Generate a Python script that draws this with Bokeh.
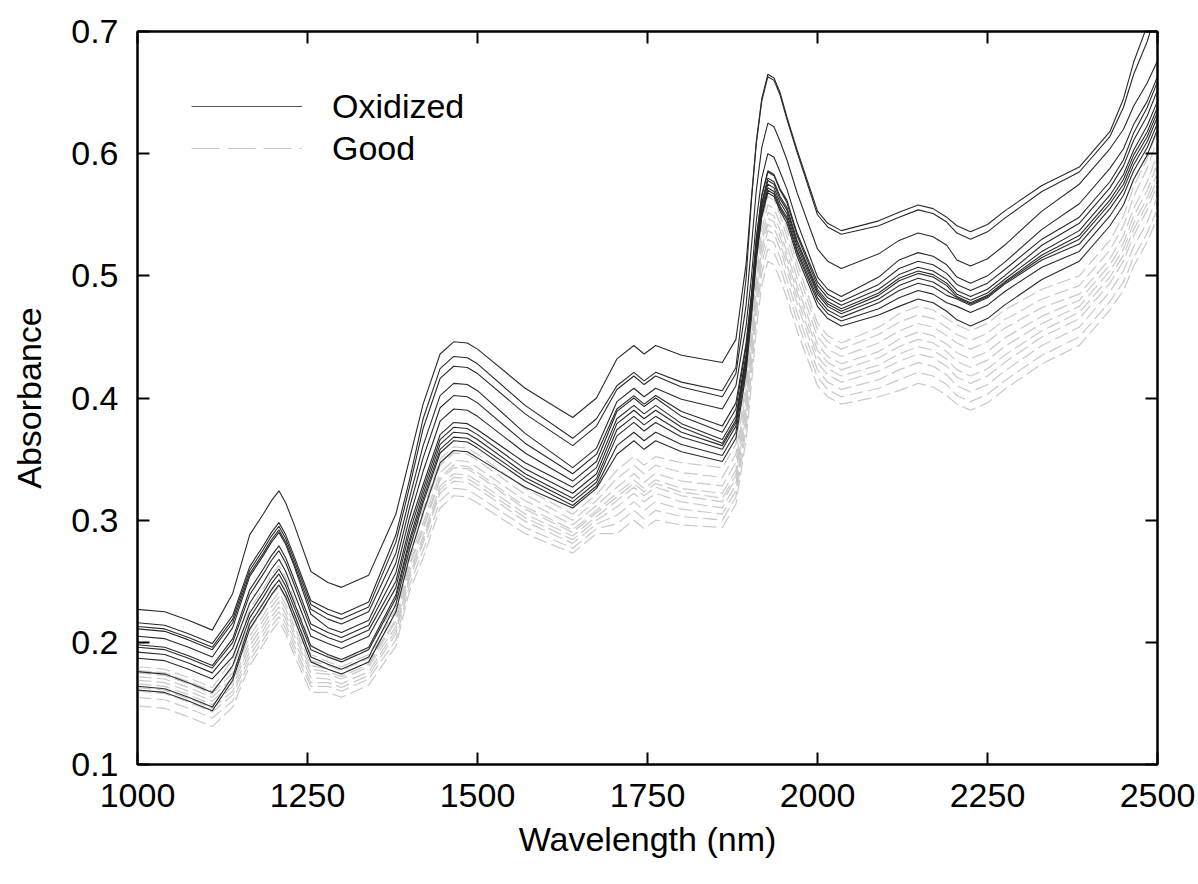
from bokeh.plotting import figure
from bokeh.models import FixedTicker, LinearAxis, Legend, LegendItem, Range1d
from bokeh.embed import file_html
from bokeh.resources import INLINE

# ---------------- data ----------------
WAVELENGTH = [1000, 1040, 1075, 1110, 1140, 1165, 1185, 1197, 1208, 1218,
              1230, 1255, 1280, 1300, 1340, 1380, 1400, 1420, 1445, 1465,
              1485, 1500, 1570, 1640, 1675, 1705, 1730, 1745, 1762, 1800,
              1860, 1880, 1895, 1903, 1910, 1918, 1927, 1936, 1945, 1955,
              1970, 2000, 2015, 2035, 2090, 2120, 2148, 2170, 2190, 2205,
              2225, 2250, 2275, 2330, 2385, 2430, 2450, 2465, 2485, 2500]

ox01 = [.227, .225, .218, .210, .240, .288, .305, .316, .324, .314,
        .297, .258, .249, .245, .255, .305, .350, .395, .436, .446,
        .445, .440, .408, .384, .400, .432, .443, .436, .443, .435,
        .429, .448, .510, .565, .610, .645, .665, .662, .650, .630,
        .603, .553, .543, .537, .545, .552, .558, .555, .548, .541,
        .536, .542, .553, .574, .589, .618, .645, .675, .705, .735]
ox02 = [.216, .214, .207, .199, .222, .262, .279, .290, .298, .288,
        .271, .234, .227, .223, .233, .288, .333, .383, .424, .434,
        .433, .428, .394, .367, .383, .410, .421, .414, .421, .413,
        .406, .425, .498, .563, .608, .643, .663, .660, .648, .628,
        .601, .550, .540, .534, .541, .548, .554, .551, .544, .535,
        .530, .536, .547, .569, .585, .614, .638, .665, .692, .720]
ox03 = [.213, .211, .204, .196, .219, .259, .276, .287, .295, .285,
        .268, .231, .223, .219, .229, .282, .327, .375, .416, .426,
        .425, .420, .387, .361, .377, .407, .418, .411, .418, .409,
        .401, .420, .476, .525, .570, .605, .625, .622, .610, .595,
        .568, .522, .512, .506, .518, .529, .535, .532, .525, .513,
        .508, .514, .525, .553, .575, .604, .620, .639, .658, .676]
ox04 = [.211, .209, .202, .194, .216, .256, .273, .284, .292, .282,
        .265, .227, .219, .215, .225, .273, .318, .361, .402, .412,
        .411, .406, .371, .343, .359, .397, .408, .401, .408, .399,
        .391, .410, .459, .500, .545, .580, .600, .597, .585, .571,
        .544, .499, .489, .483, .499, .513, .519, .516, .509, .499,
        .494, .500, .511, .538, .559, .588, .604, .624, .643, .663]
ox05 = [.205, .203, .196, .188, .212, .254, .271, .282, .290, .280,
        .263, .223, .212, .208, .218, .265, .310, .351, .392, .402,
        .401, .396, .363, .338, .354, .391, .402, .395, .402, .389,
        .377, .396, .445, .486, .531, .566, .586, .583, .571, .562,
        .535, .495, .485, .479, .493, .506, .512, .509, .502, .493,
        .488, .494, .505, .530, .548, .577, .595, .617, .638, .659]
ox06 = [.198, .196, .189, .181, .203, .243, .260, .271, .279, .269,
        .252, .215, .208, .204, .214, .257, .302, .340, .381, .391,
        .390, .385, .355, .332, .348, .389, .400, .393, .400, .385,
        .372, .391, .442, .485, .530, .565, .585, .582, .570, .560,
        .533, .492, .482, .476, .489, .501, .507, .504, .497, .488,
        .483, .489, .500, .525, .543, .572, .590, .611, .631, .652]
ox07 = [.196, .194, .187, .179, .200, .239, .256, .267, .275, .265,
        .248, .211, .204, .200, .210, .250, .295, .329, .370, .380,
        .379, .374, .347, .327, .343, .383, .394, .387, .394, .379,
        .366, .385, .436, .480, .525, .560, .580, .577, .565, .556,
        .529, .489, .479, .473, .486, .498, .504, .501, .494, .485,
        .480, .486, .497, .520, .537, .566, .583, .603, .623, .643]
ox08 = [.192, .190, .183, .175, .195, .232, .249, .260, .268, .258,
        .241, .205, .199, .195, .205, .245, .290, .325, .366, .376,
        .375, .370, .342, .322, .338, .379, .390, .383, .390, .376,
        .363, .382, .434, .478, .523, .558, .578, .575, .563, .554,
        .527, .487, .477, .471, .484, .496, .502, .499, .492, .483,
        .478, .484, .495, .517, .533, .562, .579, .599, .618, .638]
ox09 = [.187, .185, .178, .170, .188, .224, .241, .252, .260, .250,
        .233, .197, .190, .186, .196, .239, .284, .321, .362, .372,
        .371, .366, .338, .318, .334, .374, .385, .378, .385, .372,
        .361, .380, .431, .475, .520, .555, .575, .572, .560, .551,
        .524, .485, .475, .469, .481, .492, .498, .495, .488, .482,
        .477, .483, .494, .515, .530, .559, .575, .595, .614, .634]
ox10 = [.176, .174, .167, .159, .181, .220, .237, .248, .256, .246,
        .229, .194, .188, .184, .194, .236, .281, .317, .358, .368,
        .367, .362, .335, .315, .331, .369, .380, .373, .380, .368,
        .358, .377, .428, .472, .517, .552, .572, .569, .557, .548,
        .521, .482, .472, .466, .478, .488, .494, .491, .484, .481,
        .476, .482, .493, .513, .526, .555, .571, .591, .610, .630]
ox11 = [.164, .162, .155, .147, .172, .215, .232, .243, .251, .241,
        .224, .188, .182, .178, .188, .231, .276, .314, .355, .365,
        .364, .359, .332, .312, .328, .361, .372, .365, .372, .362,
        .353, .372, .425, .470, .515, .550, .570, .567, .555, .546,
        .519, .479, .469, .463, .473, .482, .488, .485, .478, .475,
        .470, .476, .487, .507, .520, .549, .566, .586, .605, .625]
ox12 = [.161, .159, .152, .144, .169, .211, .228, .239, .247, .237,
        .220, .184, .178, .174, .184, .225, .270, .306, .347, .357,
        .356, .351, .327, .310, .326, .354, .365, .358, .365, .356,
        .348, .367, .421, .468, .513, .548, .568, .565, .553, .543,
        .516, .475, .465, .459, .468, .475, .481, .478, .471, .464,
        .459, .465, .476, .497, .512, .541, .558, .579, .599, .620]

gd01 = [.180, .178, .171, .163, .186, .227, .244, .255, .263, .253,
        .236, .198, .189, .185, .195, .232, .277, .309, .350, .360,
        .359, .354, .326, .305, .321, .341, .352, .345, .352, .347,
        .343, .362, .420, .472, .517, .552, .572, .569, .557, .538,
        .511, .461, .451, .445, .458, .469, .475, .472, .465, .460,
        .455, .461, .472, .489, .500, .529, .549, .573, .596, .620]
gd02 = [.177, .175, .168, .160, .179, .216, .233, .244, .252, .242,
        .225, .190, .184, .180, .190, .227, .272, .304, .345, .355,
        .354, .349, .321, .300, .316, .334, .345, .338, .345, .339,
        .335, .354, .413, .465, .510, .545, .565, .562, .550, .532,
        .505, .456, .446, .440, .452, .462, .468, .465, .458, .452,
        .447, .453, .464, .481, .492, .521, .541, .565, .588, .612]
gd03 = [.175, .173, .166, .158, .175, .210, .227, .238, .246, .236,
        .219, .185, .181, .177, .187, .223, .268, .298, .339, .349,
        .348, .343, .316, .296, .312, .327, .338, .331, .338, .332,
        .328, .347, .406, .458, .503, .538, .558, .555, .543, .525,
        .498, .450, .440, .434, .445, .455, .461, .458, .451, .445,
        .440, .446, .457, .474, .485, .514, .533, .555, .577, .600]
gd04 = [.172, .170, .163, .155, .171, .205, .222, .233, .241, .231,
        .214, .181, .178, .174, .184, .219, .264, .294, .335, .345,
        .344, .339, .311, .292, .308, .322, .333, .326, .333, .326,
        .322, .341, .400, .452, .497, .532, .552, .549, .537, .519,
        .492, .444, .434, .428, .438, .448, .454, .451, .444, .437,
        .432, .438, .449, .467, .480, .509, .527, .549, .570, .592]
gd05 = [.169, .167, .160, .152, .167, .201, .218, .229, .237, .227,
        .210, .178, .176, .172, .182, .217, .262, .292, .333, .343,
        .342, .337, .309, .290, .306, .319, .330, .323, .330, .323,
        .318, .337, .395, .447, .492, .527, .547, .544, .532, .514,
        .487, .439, .429, .423, .433, .442, .448, .445, .438, .430,
        .425, .431, .442, .461, .475, .504, .522, .543, .564, .585]
gd06 = [.166, .164, .157, .149, .164, .197, .214, .225, .233, .223,
        .206, .175, .174, .170, .180, .213, .258, .287, .328, .338,
        .337, .332, .305, .287, .303, .316, .327, .320, .327, .320,
        .315, .334, .391, .442, .487, .522, .542, .539, .527, .509,
        .482, .434, .424, .418, .427, .436, .442, .439, .432, .423,
        .418, .424, .435, .455, .470, .499, .517, .538, .559, .580]
gd07 = [.163, .161, .154, .146, .160, .193, .210, .221, .229, .219,
        .202, .171, .170, .166, .176, .210, .255, .284, .325, .335,
        .334, .329, .302, .284, .300, .311, .322, .315, .322, .315,
        .310, .329, .386, .437, .482, .517, .537, .534, .522, .504,
        .477, .429, .419, .413, .422, .430, .436, .433, .426, .417,
        .412, .418, .429, .450, .465, .494, .512, .533, .554, .575]
gd08 = [.160, .158, .151, .143, .157, .189, .206, .217, .225, .215,
        .198, .167, .167, .163, .173, .207, .252, .281, .322, .332,
        .331, .326, .299, .281, .297, .304, .315, .308, .315, .309,
        .305, .324, .380, .430, .475, .510, .530, .527, .515, .497,
        .470, .423, .413, .407, .415, .423, .429, .426, .419, .410,
        .405, .411, .422, .443, .458, .487, .504, .524, .544, .565]
gd09 = [.155, .153, .146, .138, .152, .185, .202, .213, .221, .211,
        .194, .164, .164, .160, .170, .202, .247, .275, .316, .326,
        .325, .320, .294, .277, .293, .297, .308, .301, .308, .303,
        .300, .319, .374, .422, .467, .502, .522, .519, .507, .490,
        .463, .417, .407, .401, .408, .415, .421, .418, .411, .402,
        .397, .403, .414, .435, .450, .479, .495, .515, .535, .555]
gd10 = [.148, .146, .139, .131, .147, .181, .198, .209, .217, .207,
        .190, .159, .159, .155, .165, .197, .242, .269, .310, .320,
        .319, .314, .289, .273, .289, .289, .300, .293, .300, .296,
        .294, .313, .366, .412, .457, .492, .512, .509, .497, .482,
        .455, .410, .401, .395, .401, .406, .412, .409, .402, .395,
        .390, .396, .407, .428, .443, .472, .488, .508, .528, .548]

OXIDIZED = [ox01, ox02, ox03, ox04, ox05, ox06, ox07, ox08, ox09, ox10, ox11, ox12]
GOOD = [gd01, gd02, gd03, gd04, gd05, gd06, gd07, gd08, gd09, gd10]

X_TICKS = [1000, 1250, 1500, 1750, 2000, 2250, 2500]
Y_TICKS = [0.1, 0.2, 0.3, 0.4, 0.5, 0.6, 0.7]
LABELS = ["Oxidized", "Good"]

FONT = "Liberation Sans"
FONT_SIZE = "34px"
BLACK_LINE = "#2a2a2a"
GRAY_LINE = "#c9c9c9"

# ---------------- figure ----------------
p = figure(width=1198, height=884, output_backend="svg", toolbar_location=None,
           x_range=Range1d(1000, 2500), y_range=Range1d(0.1, 0.7),
           min_border_left=137, min_border_right=41, min_border_top=31,
           min_border_bottom=120)
p.grid.visible = False
p.outline_line_color = "black"
p.outline_line_width = 2
p.background_fill_color = "white"
p.border_fill_color = "white"

for ys in GOOD:
    p.line(WAVELENGTH, ys, line_color=GRAY_LINE, line_width=1.2, line_dash="14 5")
for ys in OXIDIZED:
    p.line(WAVELENGTH, ys, line_color=BLACK_LINE, line_width=1.1)


def style_axis(ax, labels=True):
    ax.axis_line_color = "black"
    ax.axis_line_width = 2
    ax.major_tick_in = 12
    ax.major_tick_out = 0
    ax.major_tick_line_width = 2
    ax.major_tick_line_color = "black"
    ax.minor_tick_line_color = None
    if labels:
        ax.major_label_text_font = FONT
        ax.major_label_text_font_size = FONT_SIZE
        ax.major_label_text_color = "black"
        ax.major_label_standoff = 19
        ax.axis_label_text_font = FONT
        ax.axis_label_text_font_size = FONT_SIZE
        ax.axis_label_text_font_style = "normal"
        ax.axis_label_text_color = "black"
    else:
        ax.major_label_text_font_size = "1px"
        ax.major_label_text_color = None
        ax.major_label_standoff = 0


xb = p.xaxis[0]
xb.ticker = FixedTicker(ticks=X_TICKS)
xb.axis_label = "Wavelength (nm)"
style_axis(xb)
xb.axis_label_standoff = 10

yl = p.yaxis[0]
yl.ticker = FixedTicker(ticks=Y_TICKS)
yl.axis_label = "Absorbance"
style_axis(yl)
yl.axis_label_standoff = 20

xt = LinearAxis(ticker=FixedTicker(ticks=X_TICKS))
style_axis(xt, labels=False)
p.add_layout(xt, "above")

yr = LinearAxis(ticker=FixedTicker(ticks=Y_TICKS))
style_axis(yr, labels=False)
p.add_layout(yr, "right")

# legend: one-point renderers with no drawable value carry the legend styles
leg_ox = p.line(WAVELENGTH[:1], [float("nan")], line_color="#555555", line_width=1.2)
leg_gd = p.line(WAVELENGTH[:1], [float("nan")], line_color=GRAY_LINE, line_width=1.2,
                line_dash="28 8")
legend = Legend(items=[LegendItem(label=LABELS[0], renderers=[leg_ox]),
                       LegendItem(label=LABELS[1], renderers=[leg_gd])],
                location="top_left", margin=54, padding=0, spacing=0,
                glyph_width=111, glyph_height=42, label_height=42,
                label_standoff=30, label_text_font=FONT,
                label_text_font_size=FONT_SIZE, label_text_color="black",
                border_line_color=None, background_fill_alpha=0)
p.add_layout(legend)

open("out.html", "w").write(file_html(p, INLINE))
